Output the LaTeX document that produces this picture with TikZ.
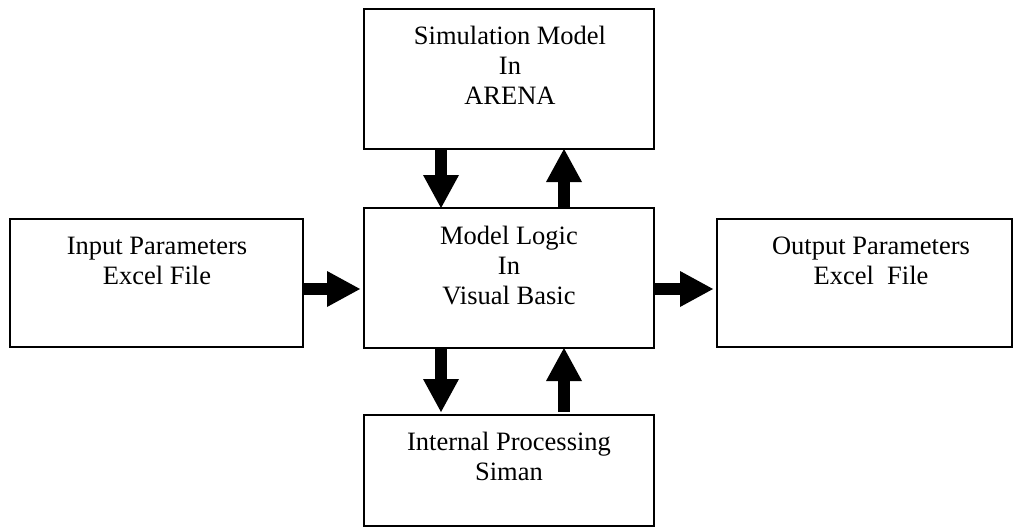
\documentclass[tikz,border=0pt]{standalone}
\usepackage{fontspec}
\setmainfont{Liberation Serif}
\usetikzlibrary{arrows.meta,calc}
\begin{document}
\begin{tikzpicture}[x=1pt,y=-1pt,
  box/.style={draw, line width=1.5pt, rectangle, inner sep=0pt, outer sep=0pt},
  txt/.style={font=\fontsize{26.5}{30}\selectfont, align=center, inner sep=0pt, anchor=base},
  blk/.style={line width=12.5pt, -{Triangle[length=33pt,width=36pt,line width=0pt]}}]
\useasboundingbox (0,0) rectangle (1013,527);
\node[box, minimum width=290pt, minimum height=140pt] (top) at (509,79) {};
\node[box, minimum width=290pt, minimum height=140pt] (mid) at (509,278) {};
\node[box, minimum width=293pt, minimum height=128pt] (in) at (156.5,283) {};
\node[box, minimum width=295pt, minimum height=128pt] (out) at (864.5,283) {};
\node[box, minimum width=290pt, minimum height=111pt] (bot) at (509,470.5) {};
\node[txt] (toptext) at (510,104) {Simulation Model\\In\\ARENA};
\node[txt] (midtext) at (509,304) {Model Logic\\In\\Visual Basic};
\node[txt] (intext) at (157,284) {Input Parameters\\Excel File};
\node[txt] (outtext) at (871,284) {Output Parameters\\Excel\ \ File};
\node[txt] (bottext) at (509,480) {Internal Processing\\Siman};
\draw[blk] ([xshift=-68pt]top.south) -- ([xshift=-68pt]mid.north);
\draw[blk] ([xshift=55pt]mid.north) -- ([xshift=55pt]top.south);
\draw[blk] ([xshift=-68pt]mid.south) -- ([xshift=-68pt,yshift=3pt]bot.north);
\draw[blk] ([xshift=55pt,yshift=3pt]bot.north) -- ([xshift=55pt]mid.south);
\draw[blk, shorten >=4pt] ([yshift=-6pt]in.east) -- ([yshift=-6pt]in.east -| mid.west);
\draw[blk, shorten >=4pt] ([yshift=-6pt]in.east -| mid.east) -- ([yshift=-6pt]in.east -| out.west);
\end{tikzpicture}
\end{document}
